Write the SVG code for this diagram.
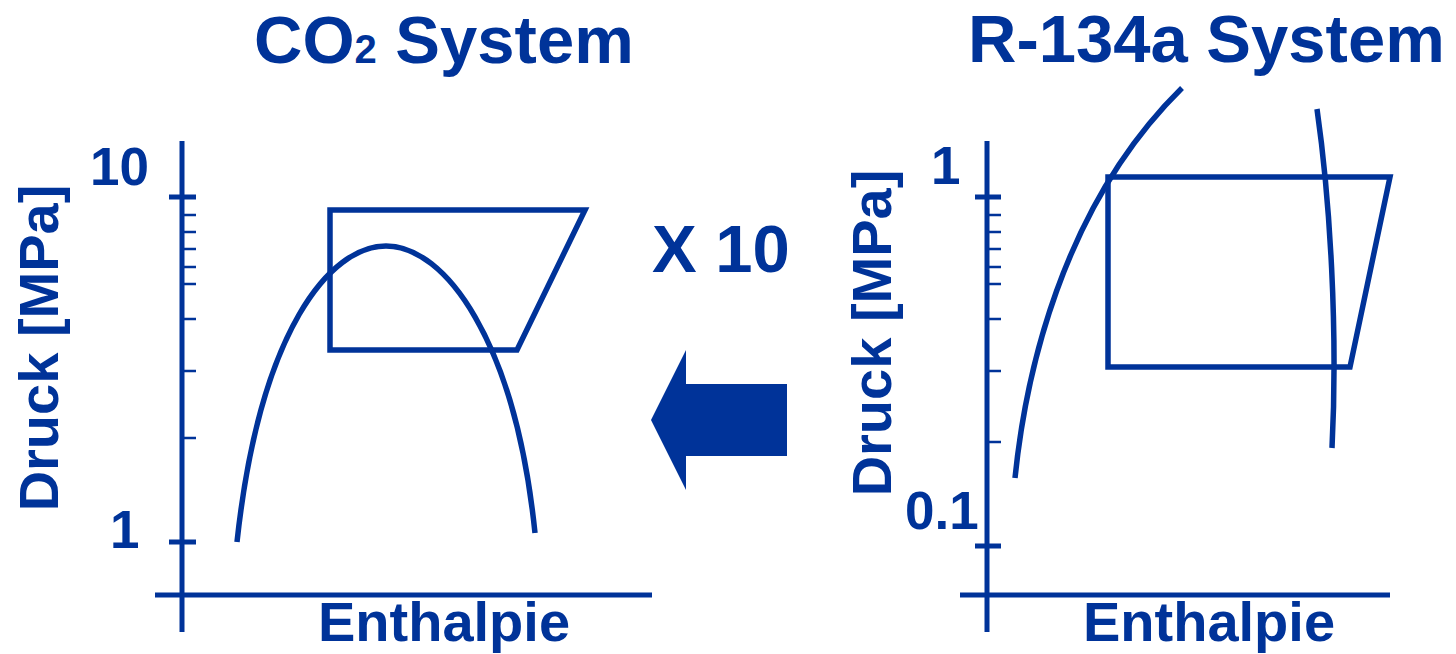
<svg xmlns="http://www.w3.org/2000/svg" width="1456" height="654" viewBox="0 0 1456 654">
<style>
text{font-family:"Liberation Sans",Arial,sans-serif;font-weight:bold;fill:#003399}
.t{font-size:67px}
.lab{font-size:56px}
.num{font-size:53px}
.ax{stroke:#003399;stroke-width:5;fill:none}
.mn{stroke:#003399;stroke-width:2.5;fill:none}
.ln{stroke:#003399;stroke-width:5.5;fill:none;stroke-linejoin:miter}
</style>
<rect width="1456" height="654" fill="#fff"/>
<g id="co2-title"><text class="t" x="254" y="63">CO<tspan font-size="40">2</tspan> System</text></g>
<g id="r134a-title"><text class="t" x="968" y="62">R-134a System</text></g>
<g id="co2-axes">
<path class="ax" d="M182,141V632M155,595H652M169,197H196M169,542H196"/>
<path class="mn" d="M182,215H196M182,232H196M182,249H196M182,267H196M182,284H196M182,319H196M182,371H196M182,438H196"/>
<text class="num" x="90" y="185">10</text>
<text class="num" x="110" y="548">1</text>
<text class="lab" transform="translate(58,348) rotate(-90)" text-anchor="middle">Druck [MPa]</text>
<text class="lab" x="318" y="641">Enthalpie</text>
</g>
<g id="co2-plot">
<path class="ln" d="M330,210H585L517,350H330Z"/>
<path class="ln" d="M237,542C260,330 330,246 386,246C445,246 515,340 535,533"/>
</g>
<g id="r134a-axes">
<path class="ax" d="M987,141V632M960,595H1390M975,197H1001M975,546H1001"/>
<path class="mn" d="M987,215H1001M987,232H1001M987,249H1001M987,267H1001M987,284H1001M987,319H1001M987,371H1001M987,442H1001"/>
<text class="num" x="931" y="184">1</text>
<text class="num" x="905" y="529">0.1</text>
<text class="lab" transform="translate(891,333) rotate(-90)" text-anchor="middle">Druck [MPa]</text>
<text class="lab" x="1083" y="641">Enthalpie</text>
</g>
<g id="r134a-plot">
<path class="ln" d="M1108,177H1390L1350,367H1108Z"/>
<path class="ln" d="M1015,478C1025,380 1060,208 1182,88" />
<path class="ln" d="M1317,109C1330,200 1338,330 1332,448"/>
</g>
<g id="connectors">
<text class="t" x="652" y="272">X 10</text>
<polygon fill="#003399" points="651,420 686,350 686,384 787,384 787,456 686,456 686,490"/>
</g>
</svg>
